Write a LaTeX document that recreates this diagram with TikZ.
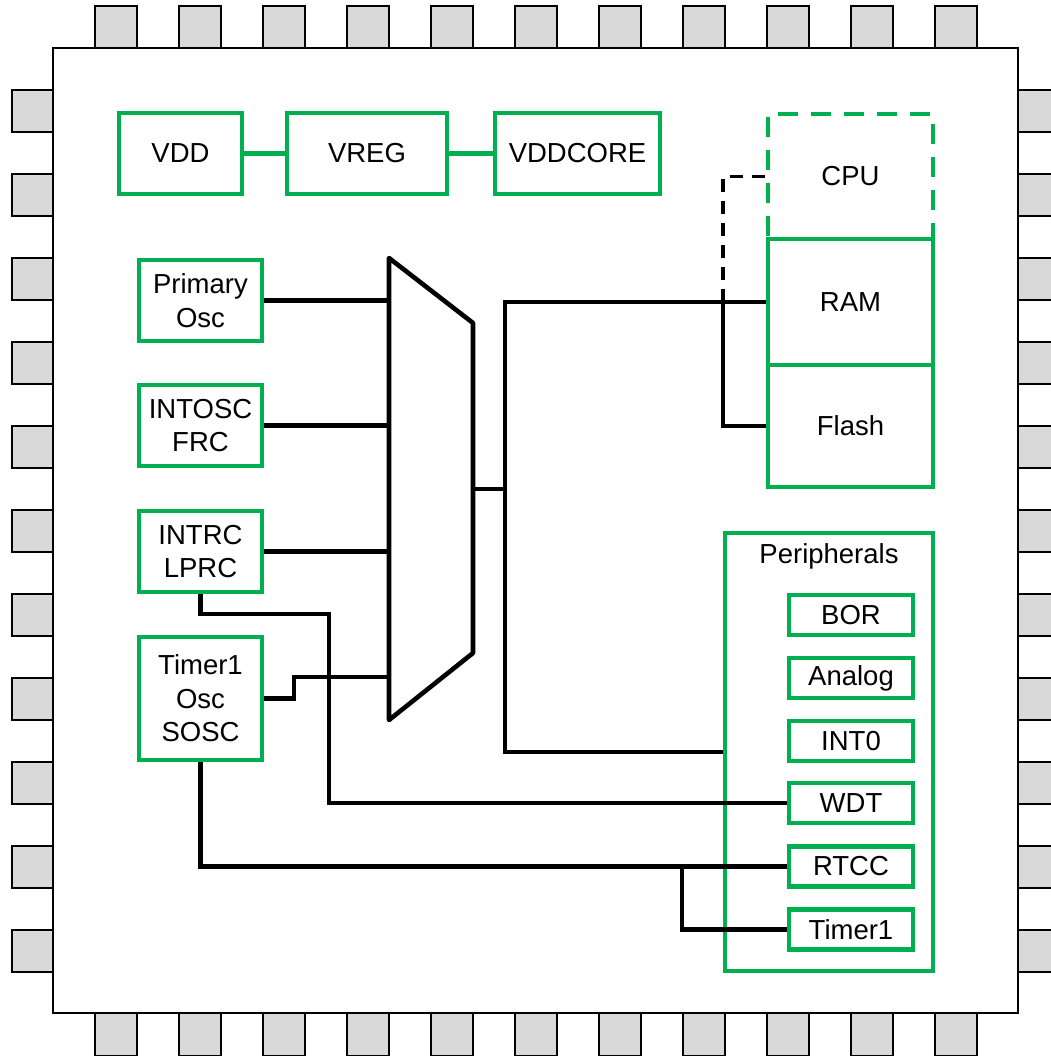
\documentclass[tikz,border=0pt]{standalone}
\usepackage{fontspec}
\setmainfont{Liberation Sans}
\definecolor{grn}{RGB}{0,176,80}
\definecolor{pingray}{RGB}{217,217,217}
\begin{document}
\begin{tikzpicture}[x=1pt,y=-1pt,
  every node/.style={font=\fontsize{27.5}{33.5}\selectfont, inner sep=0pt},
  gbox/.style={draw=grn, line width=4.5pt, rectangle, align=center, fill=white},
  wire/.style={draw=black, line width=4.6pt, line join=miter},
  pinbox/.style={fill=pingray, draw=black, line width=1.5pt}]
\useasboundingbox (0,0) rectangle (1050,1056);
% pins
\foreach \k in {0,...,10}{
  \pgfmathsetmacro{\p}{95+84*\k}
  \pgfmathsetmacro{\q}{90+84*\k}
  \draw[pinbox] (\p,6) rectangle ++(42,42);
  \draw[pinbox] (\p,1013) rectangle ++(42,43);
  \draw[pinbox] (12,\q) rectangle ++(41,42);
  \draw[pinbox] (1018,\q) rectangle ++(42,42);
}
% chip body
\draw[fill=white, draw=black, line width=1.7pt] (53,48) rectangle (1018,1013);

% supply chain
\node[gbox, minimum width=123pt, minimum height=81pt] (vdd) at (180.5,153.5) {VDD};
\node[gbox, minimum width=160pt, minimum height=81pt] (vreg) at (367,153.5) {VREG};
\node[gbox, minimum width=165pt, minimum height=81pt] (vddcore) at (577.5,153.5) {VDDCORE};
\draw[draw=grn, line width=4.5pt] (vdd.east) -- (vreg.west);
\draw[draw=grn, line width=4.5pt] (vreg.east) -- (vddcore.west);

% oscillators
\node[gbox, minimum width=123pt, minimum height=81pt] (posc) at (200.5,300.5) {Primary\\Osc};
\node[gbox, minimum width=123pt, minimum height=81pt] (intosc) at (200.5,425.5) {INTOSC\\FRC};
\node[gbox, minimum width=123pt, minimum height=81pt] (intrc) at (200.5,551.5) {INTRC\\LPRC};
\node[gbox, minimum width=123pt, minimum height=123pt] (t1osc) at (200.5,698.5) {Timer1\\Osc\\SOSC};

% mux
\coordinate (mtl) at (389,258);
\coordinate (mtr) at (473,323);
\coordinate (mbr) at (473,653);
\coordinate (mbl) at (389,720);
\draw[line width=4.6pt, line join=round] (mtl) -- (mtr) -- (mbr) -- (mbl) -- cycle;
\coordinate (mout) at (473,489);
\coordinate (bus) at (505,489);

% memory / cpu
\node[draw=grn, line width=4pt, dash pattern=on 20pt off 13pt, dash phase=4pt, minimum width=165pt, minimum height=125pt] (cpu) at (850.5,176.5) {CPU};
\node[gbox, minimum width=165pt, minimum height=126pt] (ram) at (850.5,302) {RAM};
\node[gbox, minimum width=165pt, minimum height=122pt] (flash) at (850.5,426) {Flash};

% peripherals
\node[draw=grn, line width=4.5pt, minimum width=208pt, minimum height=438pt] (per) at (829,752) {};
\node (perlbl) at (829,556) {Peripherals};
\node[gbox, minimum width=124pt, minimum height=40pt] (bor) at (851,615) {BOR};
\node[gbox, minimum width=124pt, minimum height=40pt] (analog) at (851,678) {Analog};
\node[gbox, minimum width=124pt, minimum height=40pt] (int0) at (851,741) {INT0};
\node[gbox, minimum width=124pt, minimum height=40pt] (wdt) at (851,803) {WDT};
\node[gbox, minimum width=124pt, minimum height=40pt] (rtcc) at (851,866.5) {RTCC};
\node[gbox, minimum width=124pt, minimum height=40pt] (tmr1) at (851,929.5) {Timer1};

% wires into mux
\draw[wire] (posc.east) -- (posc.east -| mtl);
\draw[wire] (intosc.east) -- (intosc.east -| mtl);
\draw[wire] (intrc.east) -- (intrc.east -| mtl);
\coordinate (j2) at (294,677);
\draw[wire] (t1osc.east) -| (j2) -- (j2 -| mtl);

% mux output bus
\draw[wire] (mout) -- (bus);
\draw[wire] (ram.west) -| (bus) |- (per.west);

% flash / cpu link
\coordinate (jf) at (723,302);
\draw[wire] (flash.west) -| (jf);
\draw[line width=3.2pt, dash pattern=on 13pt off 9pt] (jf) |- (cpu.west);

% LPRC to WDT
\coordinate (j1) at (329,614);
\draw[wire] (intrc.south) |- (j1) |- (wdt.west);

% SOSC to RTCC and Timer1
\coordinate (j3) at (682,866.5);
\draw[wire] (t1osc.south) |- (rtcc.west);
\draw[wire] (j3) |- (tmr1.west);
\end{tikzpicture}
\end{document}
